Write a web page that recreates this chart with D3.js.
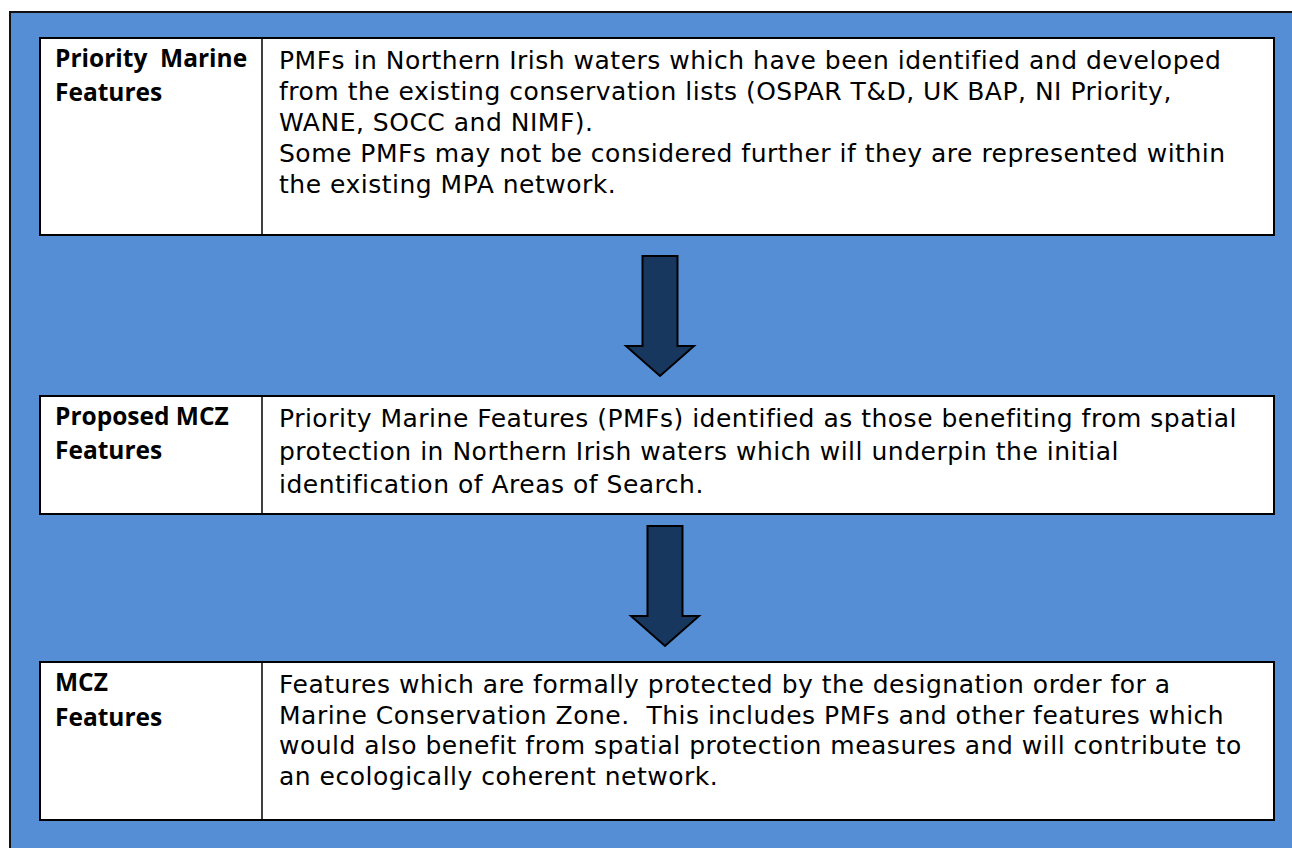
<!DOCTYPE html>
<html>
<head>
<meta charset="utf-8">
<script src="https://cdn.jsdelivr.net/npm/d3@7"></script>
<style>
  html, body { margin: 0; padding: 0; background: #fff; }
  svg { display: block; }
</style>
</head>
<body>
<div id="dis"></div>
<script>
// table content, one entry per row
var labels = [
    ["Priority  Marine", "Features"],
    ["Proposed MCZ", "Features"],
    ["MCZ", "Features"]
];
var descriptions = [
    [
        "PMFs in Northern Irish waters which have been identified and developed",
        "from the existing conservation lists (OSPAR T&D, UK BAP, NI Priority,",
        "WANE, SOCC and NIMF).",
        "Some PMFs may not be considered further if they are represented within",
        "the existing MPA network."
    ],
    [
        "Priority Marine Features (PMFs) identified as those benefiting from spatial",
        "protection in Northern Irish waters which will underpin the initial",
        "identification of Areas of Search."
    ],
    [
        "Features which are formally protected by the designation order for a",
        "Marine Conservation Zone.  This includes PMFs and other features which",
        "would also benefit from spatial protection measures and will contribute to",
        "an ecologically coherent network."
    ]
];

var W = 1292, H = 848;
// layout (pixels)
var rowTop = [38, 396, 662];
var rowBottom = [235, 514, 820];
var lineH = [31, 33, 30.7];
var labelLineH = [34, 34, 35];
var arrowTop = [256, 526];
var arrowX = [660, 665];
var boxLeft = 40, boxRight = 1274, divX = 262;

var svg = d3.select("#dis").append("svg")
    .attr("width", W)
    .attr("height", H)
    .attr("viewBox", [0, 0, W, H]);

// blue panel
svg.append("rect")
    .attr("x", 10).attr("y", 12)
    .attr("width", W).attr("height", H)
    .attr("fill", "#558ed5")
    .attr("stroke", "#111")
    .attr("stroke-width", 2);

var bodyFont = "'DejaVu Sans', 'Open Sans', sans-serif";
var labelFont = "'Open Sans', 'DejaVu Sans', sans-serif";

var row = svg.append("g")
    .selectAll("g")
    .data(descriptions.map((d, i) => ({desc: d, label: labels[i], i: i})))
    .join("g");

row.append("rect")
    .attr("x", boxLeft)
    .attr("y", d => rowTop[d.i])
    .attr("width", boxRight - boxLeft)
    .attr("height", d => rowBottom[d.i] - rowTop[d.i])
    .attr("fill", "#fff")
    .attr("stroke", "#000")
    .attr("stroke-width", 2);

row.append("line")
    .attr("x1", divX).attr("x2", divX)
    .attr("y1", d => rowTop[d.i])
    .attr("y2", d => rowBottom[d.i])
    .attr("stroke", "#000")
    .attr("stroke-width", 1.5);

row.append("text")
    .attr("font-family", labelFont)
    .attr("font-weight", "bold")
    .attr("font-size", 24.5)
    .attr("fill", "#000")
    .style("white-space", "pre")
    .selectAll("tspan")
    .data(d => d.label.map((t, k) => ({t: t, k: k, i: d.i})))
    .join("tspan")
        .attr("x", 55)
        .attr("y", d => rowTop[d.i] + 29 + d.k * labelLineH[d.i])
        .text(d => d.t);

row.append("text")
    .attr("font-family", bodyFont)
    .attr("font-size", 25)
    .attr("letter-spacing", 0.5)
    .attr("fill", "#000")
    .style("white-space", "pre")
    .selectAll("tspan")
    .data(d => d.desc.map((t, k) => ({t: t, k: k, i: d.i})))
    .join("tspan")
        .attr("x", 279)
        .attr("y", d => rowTop[d.i] + 31 + d.k * lineH[d.i])
        .text(d => d.t);

// down arrows between rows
var shaftW = 35, headW = 68, shaftH = 90, headH = 30;
var arrowPath = function(cx, top) {
    var p = d3.path();
    p.moveTo(cx - shaftW / 2, top);
    p.lineTo(cx + shaftW / 2, top);
    p.lineTo(cx + shaftW / 2, top + shaftH);
    p.lineTo(cx + headW / 2, top + shaftH);
    p.lineTo(cx, top + shaftH + headH);
    p.lineTo(cx - headW / 2, top + shaftH);
    p.lineTo(cx - shaftW / 2, top + shaftH);
    p.closePath();
    return p.toString();
};

svg.append("g")
    .selectAll("path")
    .data(arrowTop)
    .join("path")
        .attr("d", (d, i) => arrowPath(arrowX[i], d))
        .attr("fill", "#17375e")
        .attr("stroke", "#000")
        .attr("stroke-width", 2)
        .attr("stroke-linejoin", "miter");
</script>
</body>
</html>
